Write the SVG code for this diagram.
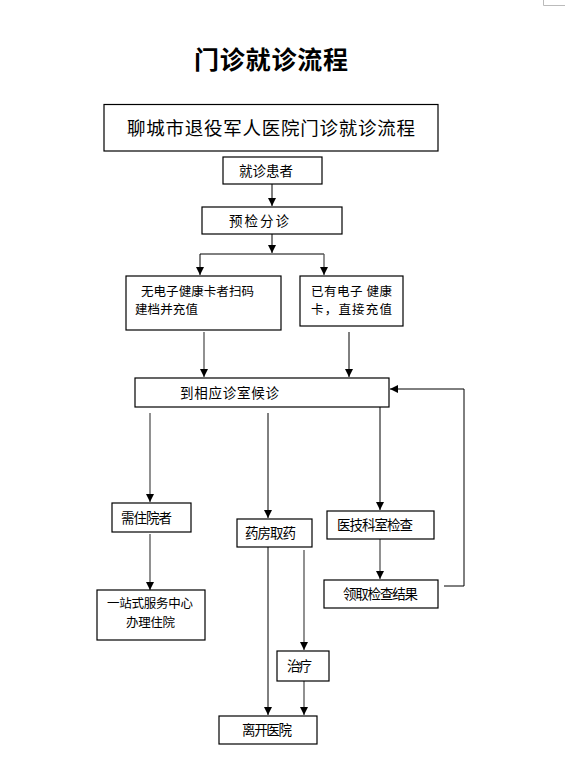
<svg xmlns="http://www.w3.org/2000/svg" width="565" height="758" viewBox="0 0 565 758">
<defs>
<style>
.box{fill:#fff;stroke:#000;stroke-width:1.2}
.t{font-family:"Noto Sans CJK SC","Noto Sans",sans-serif;font-size:13.5px;fill:#000}
.t2{font-size:12.5px}
.th{font-size:18.5px}
.ln{fill:none;stroke:#000;stroke-width:1}
.lg{fill:none;stroke:#555;stroke-width:1.3}
</style>
<marker id="ah" viewBox="0 0 8 8" refX="8" refY="4" markerWidth="8" markerHeight="8" markerUnits="userSpaceOnUse" orient="auto">
<path d="M0,0 L8,4 L0,8 Z" fill="#000"/>
</marker>
</defs>
<rect width="565" height="758" fill="#fff"/>
<path d="M543.5,0 V5.5 H565" fill="none" stroke="#bbb" stroke-width="1"/>
<text x="271" y="69" text-anchor="middle" font-family="'Noto Sans CJK SC',sans-serif" font-size="25" font-weight="bold" textLength="154" lengthAdjust="spacing">门诊就诊流程</text>

<g id="connectors">
<path class="ln" d="M272,184 V206" marker-end="url(#ah)"/>
<path class="ln" d="M272,234 V253" marker-end="url(#ah)"/>
<path class="ln" d="M200,254 H324"/>
<path class="ln" d="M200,254 V275" marker-end="url(#ah)"/>
<path class="lg" d="M324,254 V275" marker-end="url(#ah)"/>
<path class="lg" d="M204,332 V377" marker-end="url(#ah)"/>
<path class="ln" d="M349,332 V377" marker-end="url(#ah)"/>
<path class="lg" d="M150,413 V502" marker-end="url(#ah)"/>
<path class="ln" d="M268,413 V518" marker-end="url(#ah)"/>
<path class="ln" d="M380,407 V510" marker-end="url(#ah)"/>
<path class="lg" d="M150,534 V590" marker-end="url(#ah)"/>
<path class="lg" d="M380,539 V579" marker-end="url(#ah)"/>
<path class="ln" d="M444,586 H464 V389 H390" marker-end="url(#ah)"/>
<path class="ln" d="M268,547 V715" marker-end="url(#ah)"/>
<path class="lg" d="M304,550 V650" marker-end="url(#ah)"/>
<path class="lg" d="M304,681 V715" marker-end="url(#ah)"/>
</g>

<g id="n_header">
<rect class="box" x="104" y="104.5" width="334" height="46.5"/>
<text class="t th" x="127" y="135" textLength="288" lengthAdjust="spacing">聊城市退役军人医院门诊就诊流程</text>
</g>
<g id="n_patient">
<rect class="box" x="223" y="157" width="99" height="27"/>
<text class="t" x="239" y="175.5" textLength="54" lengthAdjust="spacing">就诊患者</text>
</g>
<g id="n_triage">
<rect class="box" x="202" y="207" width="140" height="27"/>
<text class="t" x="229" y="225.5" textLength="60" lengthAdjust="spacing">预检分诊</text>
</g>
<g id="n_nocard">
<rect class="box" x="126" y="276" width="155" height="54"/>
<text class="t t2" x="141" y="296" textLength="113" lengthAdjust="spacing">无电子健康卡者扫码</text>
<text class="t t2" x="135" y="314" textLength="63" lengthAdjust="spacing">建档并充值</text>
</g>
<g id="n_card">
<rect class="box" x="300" y="276" width="103" height="50"/>
<text class="t t2" x="311" y="296" textLength="81" lengthAdjust="spacing">已有电子 健康</text>
<text class="t t2" x="311" y="314" textLength="81" lengthAdjust="spacing">卡，直接充值</text>
</g>
<g id="n_wait">
<rect class="box" x="135" y="378" width="254" height="29"/>
<text class="t" x="180" y="397.5" textLength="99" lengthAdjust="spacing">到相应诊室候诊</text>
</g>
<g id="n_inpatient">
<rect class="box" x="112" y="503" width="79" height="29"/>
<text class="t" x="121" y="522.5" textLength="51" lengthAdjust="spacing">需住院者</text>
</g>
<g id="n_pharmacy">
<rect class="box" x="237" y="519" width="75" height="28"/>
<text class="t" x="245" y="538" textLength="51" lengthAdjust="spacing">药房取药</text>
</g>
<g id="n_exam">
<rect class="box" x="327" y="511" width="107" height="28"/>
<text class="t" x="337" y="530" textLength="76" lengthAdjust="spacing">医技科室检查</text>
</g>
<g id="n_onestop">
<rect class="box" x="97" y="590" width="108" height="50"/>
<text class="t t2" x="107" y="608" textLength="86" lengthAdjust="spacing">一站式服务中心</text>
<text class="t t2" x="126" y="627" textLength="49" lengthAdjust="spacing">办理住院</text>
</g>
<g id="n_result">
<rect class="box" x="324" y="580" width="114" height="28"/>
<text class="t" x="343" y="598.5" textLength="75" lengthAdjust="spacing">领取检查结果</text>
</g>
<g id="n_treat">
<rect class="box" x="277" y="651" width="52" height="30"/>
<text class="t" x="287" y="671" textLength="25" lengthAdjust="spacing">治疗</text>
</g>
<g id="n_leave">
<rect class="box" x="219" y="716" width="98" height="28"/>
<text class="t" x="242" y="735" textLength="50" lengthAdjust="spacing">离开医院</text>
</g>
</svg>
